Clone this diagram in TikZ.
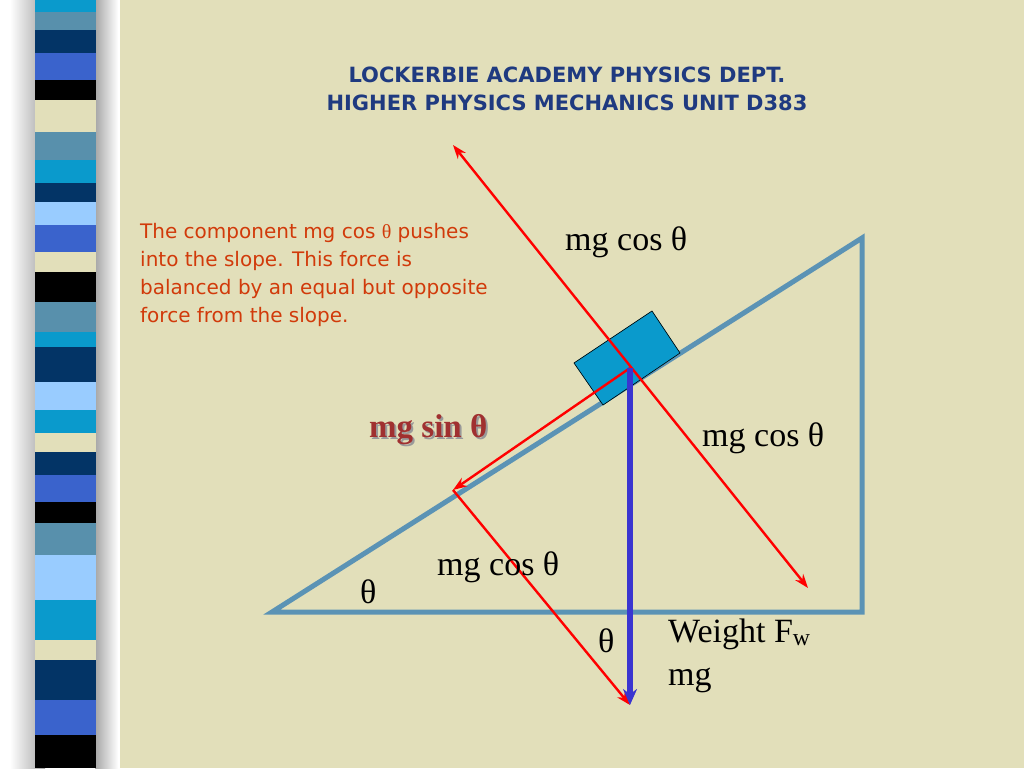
\documentclass[tikz,border=0pt]{standalone}
\usepackage{fontspec}
\setmainfont{Liberation Serif}
\newfontfamily\comicfont{DejaVu Sans}
\usetikzlibrary{arrows.meta, positioning}
\definecolor{paper}{HTML}{E2DFBA}
\definecolor{slope}{HTML}{5B93B5}
\definecolor{cube}{HTML}{0A9ACC}
\definecolor{weightc}{HTML}{3A35D0}
\definecolor{titlec}{HTML}{1F3A80}
\definecolor{notec}{HTML}{D13A0A}
\definecolor{sinc}{HTML}{A03030}
\definecolor{cA}{HTML}{0A9ACC}
\definecolor{cB}{HTML}{5890AC}
\definecolor{cC}{HTML}{033466}
\definecolor{cD}{HTML}{3A63CC}
\definecolor{cE}{HTML}{000000}
\definecolor{cF}{HTML}{E2DFBA}
\definecolor{cG}{HTML}{99CCFF}
\tikzset{force/.style = {
  -{Stealth[length=14pt,width=10pt]},
  draw=red,
  line width = 2.4pt
  }}
\tikzset{weight/.style = {
  -{Stealth[length=16pt,width=14pt]},
  draw=weightc,
  line width = 5.5pt
  }}
\tikzset{label/.style = {
  font=\fontsize{34}{38}\selectfont,
  inner sep=0pt, anchor=west
  }}
\begin{document}
\begin{tikzpicture}[x=1pt,y=-1pt]
\useasboundingbox (0,0) rectangle (1024,768);
% BACKGROUND
\fill[paper] (0,0) rectangle (1024,768);
\fill[white] (0,0) rectangle (120,768);
\shade[left color=white, right color=gray!70] (10,0) rectangle (45,768);
\shade[left color=gray!70, right color=white] (95,0) rectangle (118,768);
% stripes
\foreach \ya/\yb/\col in {0/12/cA,12/30/cB,30/53/cC,53/80/cD,80/100/cE,100/132/cF,
  132/160/cB,160/183/cA,183/202/cC,202/225/cG,225/252/cD,252/272/cF,272/302/cE,
  302/332/cB,332/347/cA,347/382/cC,382/410/cG,410/433/cA,433/452/cF,452/475/cC,
  475/502/cD,502/523/cE,523/555/cB,555/600/cG,600/640/cA,640/660/cF,660/700/cC,
  700/735/cD,735/768/cE}
  \fill[\col] (35,\ya) rectangle (96,\yb);

% TITLE
\node (title) [align=center, text=titlec, font=\comicfont\bfseries\fontsize{21}{28}\selectfont]
  at (567,89) {LOCKERBIE ACADEMY PHYSICS DEPT.\\HIGHER PHYSICS MECHANICS UNIT D383};
\node (note) [align=left, anchor=north west, inner sep=0pt, text=notec,
  font=\comicfont\fontsize{20}{28}\selectfont] at (140,223)
  {The component mg cos {\rmfamily θ} pushes\\into the slope. This force is\\
   balanced by an equal but opposite\\force from the slope.};

% SLOPE
\draw[slope, line width=5pt, line join=miter] (272,612) -- (862,612) -- (862,238) -- cycle;
\draw[cube, fill=cube] (574,363) -- (652,311) -- (680,353) -- (603,405) -- cycle;
\draw[black, line width=0.6pt] (574,363) -- (652,311) -- (680,353) -- (603,405) -- cycle;

% POINTS
\coordinate (centre) at (630,368);
\coordinate (up) at (453,145);
\coordinate (down) at (808,588);
\coordinate (sinend) at (453,490);
\coordinate (ground) at (630,705);

% FORCES
\draw [force, {Stealth[length=14pt,width=10pt]}-{Stealth[length=14pt,width=10pt]}] (up) -- (down);
\draw [force] (centre) -- (sinend);
\draw [force] (sinend) -- (ground);
\draw [weight] (centre) -- (ground);

% LABELS
\node (cosA) [label] at (565,242) {mg cos θ};
\node (cosB) [label] at (702,438) {mg cos θ};
\node (cosC) [label] at (437,567) {mg cos θ};
\node (sinl) [label, text=black!40, font=\bfseries\fontsize{33}{36}\selectfont] at (371,432) {mg sin θ};
\node (sin) [label, text=sinc, font=\bfseries\fontsize{33}{36}\selectfont] at (369,430) {mg sin θ};
\node (thA) [label] at (360,592) {θ};
\node (thB) [label] at (598,641) {θ};
\node (fw) [label] at (668,634) {Weight F\textsubscript{w}};
\node (mg) [label, below=18pt of fw.south west, anchor=north west] {mg};
\end{tikzpicture}
\end{document}
